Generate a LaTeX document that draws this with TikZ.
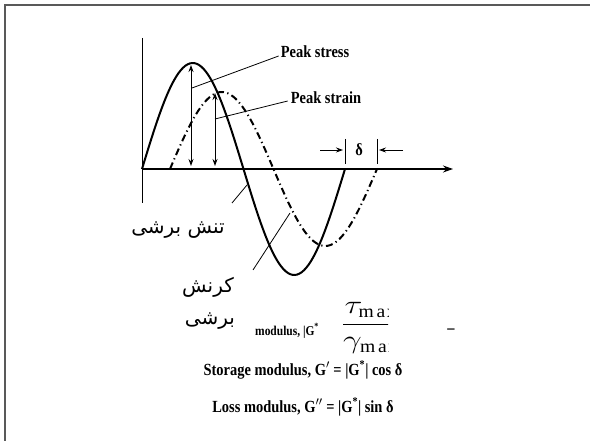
\documentclass[tikz,border=0pt]{standalone}
\usepackage{amsmath}
\usepackage{fontspec}
\setmainfont{Liberation Serif}[FakeStretch=0.85]
\newfontfamily\farsi[Script=Arabic]{DejaVu Sans}
\TeXXeTstate=1
\usetikzlibrary{arrows.meta}

\begin{document}
\begin{tikzpicture}[x=1pt,y=-1pt,every node/.style={font=\bfseries\fontsize{17}{20}\selectfont,inner sep=0}]
\tikzset{lead/.style={line width=0.8pt},
  wave/.style={line width=2pt},
  lagwave/.style={line width=2pt,dash pattern=on 7pt off 3.5pt on 1.2pt off 3.5pt},
  amp/.style={line width=0.9pt,{Stealth[length=7pt,width=5pt]}-{Stealth[length=7pt,width=5pt]}},
  ptr/.style={line width=0.9pt,-{Stealth[length=7pt,width=5pt]}},
  fa/.style={font=\farsi\fontsize{20}{24}\selectfont}}
\useasboundingbox (0,0) rectangle (590,441);
% frame (top and left edges only)
\draw[black!65,line width=1.3pt] (5,441) -- (5,5) -- (590,5);
% axes
\coordinate (O) at (142,169);
\coordinate (yTop) at (142,38);
\coordinate (yBot) at (142,203);
\coordinate (xEnd) at (453,169);
\draw[line width=1pt] (yTop) -- (yBot);
\draw[line width=1.2pt,-{Stealth[length=10pt,width=7pt]}] (O) -- (xEnd);
% stress (solid) and strain (dash-dot) waves
\draw[wave] plot[domain=142:345,samples=90,smooth] (\x,{169-106*sin((\x-142)*1.7734)});
\draw[lagwave] plot[domain=170:377,samples=90,smooth] (\x,{169-77*sin((\x-170)*1.7391)});
% peak amplitudes
\coordinate (sPk) at (191,65);  \coordinate (sFt) at (191,166);
\coordinate (ePk) at (215,93);  \coordinate (eFt) at (215,166);
\draw[amp] (sFt) -- (sPk);
\draw[amp] (eFt) -- (ePk);
\node (pkS) at (315,52) {Peak stress};
\node (pkE) at (326,98) {Peak strain};
\coordinate (sMid) at (192,88);
\coordinate (eMid) at (215,119);
\draw[lead] ([xshift=-2pt,yshift=-4pt]pkS.west) -- (sMid);
\draw[lead] ([xshift=-3pt,yshift=-3pt]pkE.west) -- (eMid);
% phase lag delta
\coordinate (dTopL) at (345,139); \coordinate (dBotL) at (345,164);
\coordinate (dTopR) at (377,139); \coordinate (dBotR) at (377,164);
\draw[line width=0.9pt] (dTopL) -- (dBotL);
\draw[line width=0.9pt] (dTopR) -- (dBotR);
\node (dl) at (359,150) {δ};
\coordinate (pL) at (320,150); \coordinate (pR) at (403,150);
\draw[ptr] (pL) -- ([xshift=-2pt]dl.west -| dTopL);
\draw[ptr] (pR) -- ([xshift=2pt]dl.east -| dTopR);
% persian labels
\node[fa] (tau) at (178,230) {\beginR تنش برشی\endR};
\coordinate (tauA) at (232,203); \coordinate (tauB) at (247,185);
\draw[lead] (tauA) -- (tauB);
\node[fa] (gamA) at (208,287) {\beginR کرنش\endR};
\node[fa] (gamB) at (210,321) {\beginR برشی\endR};
\coordinate (gamC) at (253,270); \coordinate (gamD) at (290,213);
\draw[lead] (gamC) -- (gamD);
% moduli
\node[font=\bfseries\fontsize{13.5}{16}\selectfont,anchor=base west] (cmod) at (255,335) {modulus, |G\textsuperscript{*}};
\begin{scope}
  \clip (330,300) rectangle (388,354);
  \node[font=\huge,anchor=west,xscale=1.6,yscale=1.25,transform shape] (frac) at (341,328) {$\dfrac{\tau_{\mathrm{max}}}{\gamma_{\mathrm{max}}}$};
\end{scope}
\node (dsh) at (451,331) {–};
\node (stor) at (303,370) {Storage modulus, G$'$ = |G\textsuperscript{*}| cos δ};
\node (loss) at (303,407) {Loss modulus, G$''$ = |G\textsuperscript{*}| sin δ};
\end{tikzpicture}
\end{document}
